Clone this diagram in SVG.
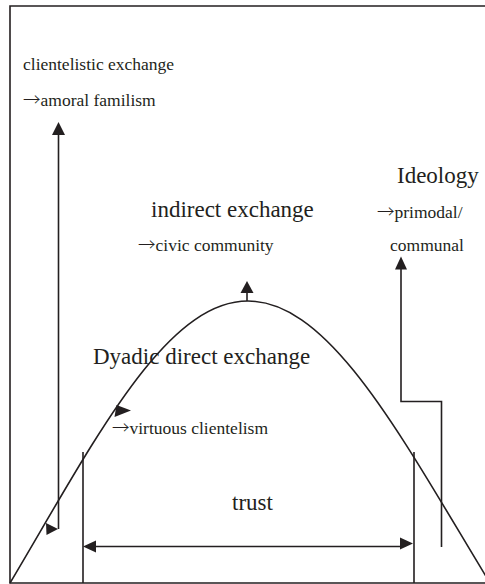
<svg xmlns="http://www.w3.org/2000/svg" width="485" height="584" viewBox="0 0 485 584">
<style>
.ln{fill:none;stroke:#231f20;stroke-width:1.6}
.hd{fill:#231f20;stroke:none}
.t{font-family:"Liberation Serif","Times New Roman",serif;fill:#231f20}
.s{font-size:17.5px}
.b{font-size:23px}
.ar{font-family:"Noto Sans CJK JP","Liberation Serif",serif;font-weight:300}
</style>
<rect x="0" y="0" width="485" height="584" fill="#fff"/>
<g id="frame"><path class="ln" d="M500,6 H10 V583 H500"/></g>
<g id="curve"><path class="ln" d="M10,583 C95,440 165,301 248,301 C331,301 403,440 490,583"/></g>
<g id="clientelistic"><text class="t s" x="23" y="70">clientelistic exchange</text><text class="t s" x="23" y="106"><tspan class="ar">→</tspan>amoral familism</text></g>
<g id="ideology"><text class="t b" x="397" y="183">Ideology</text><text class="t s" x="377" y="218"><tspan class="ar">→</tspan>primodal/</text><text class="t s" x="390" y="251">communal</text></g>
<g id="indirect"><text class="t b" x="151" y="217">indirect exchange</text><text class="t s" x="138" y="251"><tspan class="ar">→</tspan>civic community</text></g>
<g id="dyadic"><text class="t b" x="93" y="364">Dyadic direct exchange</text><text class="t s" x="112" y="434"><tspan class="ar">→</tspan>virtuous clientelism</text></g>
<g id="trust"><text class="t b" x="232" y="510">trust</text></g>
<g id="connectors">
<path class="ln" d="M58.5,529 V134"/>
<polygon class="hd" points="58.5,122 65,135 52,135"/>
<polygon class="hd" points="46,523 58,529 46.5,535"/>
<path class="ln" d="M247,301 V292"/>
<polygon class="hd" points="247,281 253.5,293 240.5,293"/>
<polygon class="hd" points="116.5,405 131,410.5 114.5,417"/>
<path class="ln" d="M83,452 V583 M414,452 V583"/>
<path class="ln" d="M95,546.5 H402"/>
<polygon class="hd" points="83,546.5 96,540.5 96,552.5"/>
<polygon class="hd" points="413,543.5 400,537.5 400,549.5"/>
<path class="ln" d="M441.5,547 V401.5 H401 V268"/>
<polygon class="hd" points="401,256.5 407,269.5 395,269.5"/>
</g>
</svg>
